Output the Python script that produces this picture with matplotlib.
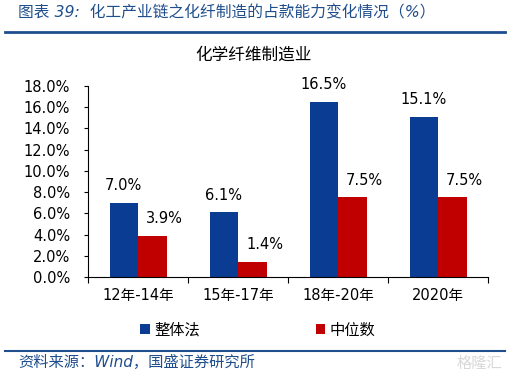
import matplotlib
matplotlib.use('Agg')
import matplotlib.pyplot as plt
import numpy as np

plt.rcParams['font.family'] = ['DejaVu Sans', 'Noto Sans CJK SC']

categories = ['12年-14年', '15年-17年', '18年-20年', '2020年']
overall = [7.0, 6.1, 16.5, 15.1]   # 整体法
median = [3.9, 1.4, 7.5, 7.5]      # 中位数
series_names = ['整体法', '中位数']
yticks = np.arange(0, 18.1, 2)

blue = '#0B3C94'
red = '#C00000'
line_blue = '#1F4E8C'

fig = plt.figure(figsize=(5.09, 3.78), dpi=100)
ax = fig.add_axes([88 / 509, 1 - 277 / 378, 400 / 509, 191 / 378])

x = np.arange(len(categories))
w = 0.285
b1 = ax.bar(x - w / 2, overall, w, color=blue, label=series_names[0])
b2 = ax.bar(x + w / 2, median, w, color=red, label=series_names[1])

for rect, v in zip(b1, overall):
    ax.annotate(f'{v:.1f}%', (rect.get_x() + rect.get_width() / 2, v),
                xytext=(0, 7), textcoords='offset points',
                ha='center', va='bottom', fontsize=10.5)
for rect, v in zip(b2, median):
    ax.annotate(f'{v:.1f}%', (rect.get_x() + rect.get_width() / 2, v),
                xytext=(9, 7), textcoords='offset points',
                ha='center', va='bottom', fontsize=10.5)

ax.set_xlim(-0.5, len(categories) - 0.5)
ax.set_ylim(0, 18)
ax.set_yticks(yticks)
ax.set_yticklabels([f'{t:.1f}%' for t in yticks], fontsize=10.5)
ax.tick_params(axis='y', direction='out', length=3, pad=10, width=0.8)

# category boundaries as ticks, labels at centers
ax.set_xticks(np.arange(len(categories) + 1) - 0.5)
ax.set_xticklabels([])
ax.tick_params(axis='x', which='major', direction='out', length=4, width=0.8)
ax.set_xticks(x, minor=True)
ax.set_xticklabels(categories, minor=True, fontsize=10.5)
ax.tick_params(axis='x', which='minor', length=0, pad=8)

for s in ['top', 'right']:
    ax.spines[s].set_visible(False)
for s in ['left', 'bottom']:
    ax.spines[s].set_linewidth(0.8)

# chart title
fig.text(254 / 509, 1 - 55 / 378, '化学纤维制造业', ha='center', va='center',
         fontsize=12, family=['Noto Sans CJK SC'])

# legend
leg = fig.legend(handles=[b1, b2], labels=series_names, loc='center',
                 bbox_to_anchor=(258 / 509, 1 - 330 / 378), ncol=2,
                 frameon=False, fontsize=11, handlelength=0.6, handleheight=0.6,
                 handletextpad=0.3, columnspacing=7.6)

# header and footer
fig.text(18 / 509, 1 - 13 / 378, '图表 39:  化工产业链之化纤制造的占款能力变化情况（%）',
         ha='left', va='center', fontsize=11.3, color=line_blue, style='italic')
fig.add_artist(plt.Line2D([5 / 509, 505 / 509], [1 - 32 / 378] * 2,
                          color=line_blue, lw=2))
fig.add_artist(plt.Line2D([5 / 509, 505 / 509], [1 - 351 / 378] * 2,
                          color=line_blue, lw=1.5))
fig.text(18 / 509, 1 - 362 / 378, '资料来源：Wind，国盛证券研究所',
         ha='left', va='center', fontsize=11, color=line_blue, style='italic')
fig.text(502 / 509, 1 - 363 / 378, '格隆汇', ha='right', va='center',
         fontsize=11, color='#D8D8D8', family=['Noto Sans CJK SC'])

fig.savefig('out.png', dpi=100)
